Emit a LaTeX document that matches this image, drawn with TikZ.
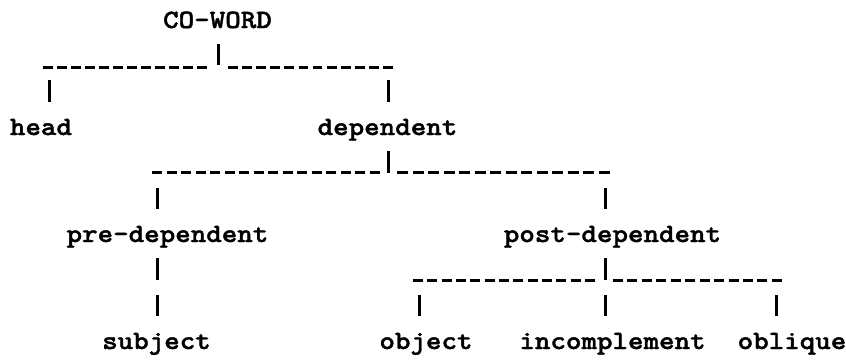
\documentclass[tikz,border=0pt]{standalone}
\usepackage{fontspec}
\newfontfamily\treefont{lmmonolt10-bold.otf}[FakeStretch=1.12, FakeBold=1.5]
\usepackage{tikz}
\usetikzlibrary{positioning}

\begin{document}
\begin{tikzpicture}[
    x=0.5pt, y=-0.5pt,
    word/.style={anchor=base, font=\treefont\fontsize{13.2}{15}\selectfont,
                 text height=8.5pt, text depth=0pt, inner xsep=0pt, inner ysep=8pt},
    stem/.style={line width=1.5pt},
    dashline/.style={line width=1.5pt, dash pattern=on #1 off 2.2pt},
  ]
  \useasboundingbox (0,0) rectangle (846,361);

  % Words
  \node[word] (coword) at (217.5,28) {CO-WORD};
  \node[word] (head) at (41,135) {head};
  \node[word] (dependent) at (387.5,135) {dependent};
  \node[word] (predep) at (167.5,242) {pre-dependent};
  \node[word] (postdep) at (612.5,242) {post-dependent};
  \node[word] (subject) at (156.5,349) {subject};
  \node[word] (object) at (426,349) {object};
  \node[word] (incompl) at (612.5,349) {incomplement};
  \node[word] (oblique) at (792,349) {oblique};

  % CO-WORD split
  \coordinate (c0) at (218,65);
  \coordinate (d0a) at (43,67);  \coordinate (d0b) at (207,67);
  \coordinate (d0c) at (228,67); \coordinate (d0d) at (393,67);
  \coordinate (h0) at (49,80);
  \coordinate (p0) at (388,80);
  \draw[stem] (coword.south -| c0) -- (c0);
  \draw[dashline=4.82pt] (d0a) -- (d0b);
  \draw[dashline=4.86pt] (d0c) -- (d0d);
  \draw[stem] (h0) -- (h0 |- head.north);
  \draw[stem] (p0) -- (p0 |- dependent.north);

  % dependent split
  \coordinate (c1) at (388,173);
  \coordinate (d1a) at (152,172); \coordinate (d1b) at (380,172);
  \coordinate (d1c) at (397,172); \coordinate (d1d) at (610,172);
  \coordinate (h1) at (157,188);
  \coordinate (p1) at (605,188);
  \draw[stem] (dependent.south -| c1) -- (c1);
  \draw[dashline=5.05pt] (d1a) -- (d1b);
  \draw[dashline=5.55pt] (d1c) -- (d1d);
  \draw[stem] (h1) -- (h1 |- predep.north);
  \draw[stem] (p1) -- (p1 |- postdep.north);

  % pre-dependent
  \coordinate (c2) at (157,280);
  \coordinate (s2) at (157,295);
  \draw[stem] (predep.south -| c2) -- (c2);
  \draw[stem] (s2) -- (s2 |- subject.north);

  % post-dependent split
  \coordinate (c3) at (605,280);
  \coordinate (d3a) at (413,280); \coordinate (d3b) at (595,280);
  \coordinate (d3c) at (613,280); \coordinate (d3d) at (782,280);
  \coordinate (o3) at (419,295);
  \coordinate (i3) at (605,295);
  \coordinate (q3) at (776,295);
  \draw[stem] (postdep.south -| c3) -- (c3);
  \draw[dashline=4.97pt] (d3a) -- (d3b);
  \draw[dashline=5.02pt] (d3c) -- (d3d);
  \draw[stem] (o3) -- (o3 |- object.north);
  \draw[stem] (i3) -- (i3 |- incompl.north);
  \draw[stem] (q3) -- (q3 |- oblique.north);

\end{tikzpicture}
\end{document}
